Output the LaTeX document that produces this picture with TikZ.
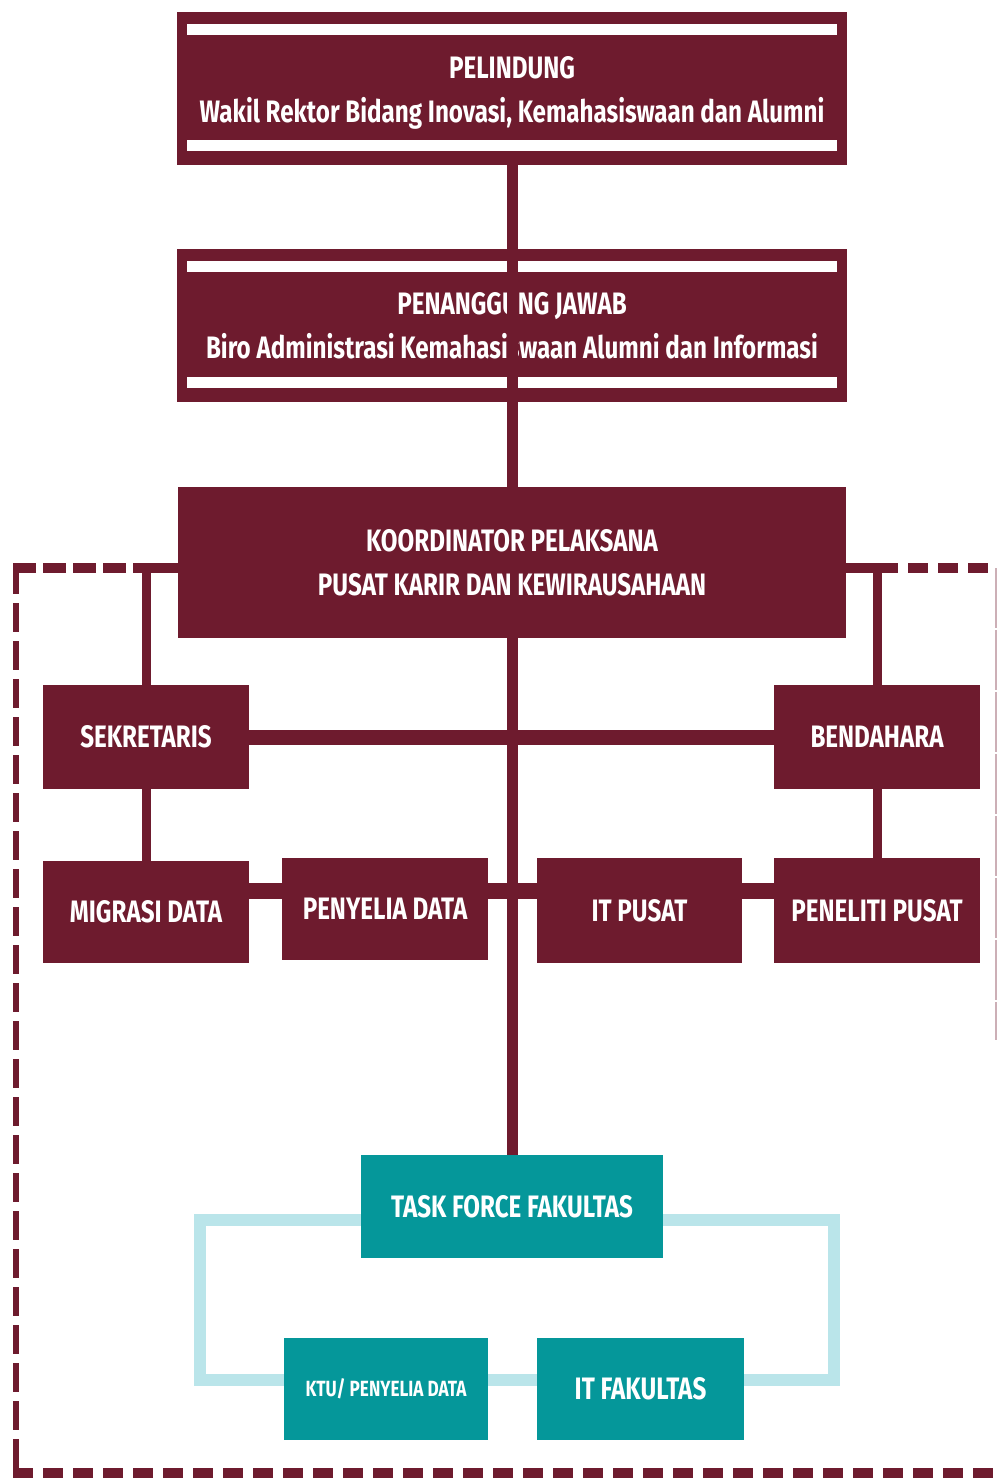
\documentclass[tikz,border=0pt]{standalone}
\usepackage{fontspec}
\setmainfont{Fira Sans}[FakeStretch=0.78]
\usetikzlibrary{backgrounds}
\definecolor{maroonk}{RGB}{110,27,46}
\definecolor{tfteal}{RGB}{5,151,154}
\definecolor{loopcyan}{RGB}{186,229,234}

\begin{document}
\begin{tikzpicture}[x=1pt, y=-1pt,
    unit/.style={fill=maroonk, text=white, align=center, inner sep=0pt,
        minimum width=206pt, minimum height=104pt, font=\fontsize{31}{38}\selectfont\bfseries},
    tfunit/.style={unit, fill=tfteal},
    link/.style={draw=maroonk, line width=9pt},
    spine/.style={draw=maroonk, line width=11pt},
    dashline/.style={draw=maroonk, dash pattern=on 23pt off 7pt},
    tflink/.style={draw=loopcyan, line width=12pt}]
    \useasboundingbox (0,0) rectangle (996,1479);

    % top of the chart
    \node[unit, minimum width=670pt, minimum height=153pt] (pel) at (512,88.5)
        {\rule{0pt}{30pt}PELINDUNG\\[6pt] Wakil Rektor Bidang Inovasi, Kemahasiswaan dan Alumni};
    \node[unit, minimum width=670pt, minimum height=153pt] (pj) at (512,325.5)
        {PENANGGUNG JAWAB\\[6pt] Biro Administrasi Kemahasiswaan Alumni dan Informasi};
    \foreach \b in {pel,pj} {
        \fill[white] ([shift={(10pt,-12pt)}]\b.north west) rectangle ([shift={(-10pt,-23pt)}]\b.north east);
        \fill[white] ([shift={(10pt,14pt)}]\b.south west) rectangle ([shift={(-10pt,25pt)}]\b.south east);
    }
    \node[unit, minimum width=668pt, minimum height=151pt] (kp) at (512,562.5)
        {KOORDINATOR PELAKSANA\\[6pt] PUSAT KARIR DAN KEWIRAUSAHAAN};
    \draw[spine] (pel) -- (pj.center) -- (kp);

    % staff
    \node[unit] (sek) at (146,737) {SEKRETARIS};
    \node[unit] (ben) at (877,737) {BENDAHARA};
    \node[unit, minimum height=102pt] (mig) at (146,912) {MIGRASI DATA};
    \node[unit, minimum height=102pt] (pen) at (385,909) {PENYELIA DATA};
    \node[unit, minimum width=205pt, minimum height=105pt] (itp) at (639.5,910.5) {IT PUSAT};
    \node[unit, minimum height=105pt] (pp) at (877,910.5) {PENELITI PUSAT};

    % task force
    \node[tfunit, minimum width=302pt, minimum height=103pt] (tf) at (512,1206.5) {TASK FORCE FAKULTAS};
    \node[tfunit, minimum width=204pt, minimum height=102pt, font=\fontsize{22}{26}\selectfont\bfseries] (ktu) at (386,1389) {KTU/ PENYELIA DATA};
    \node[tfunit, minimum width=207pt, minimum height=102pt] (itf) at (640.5,1389) {IT FAKULTAS};

    \coordinate (frL) at (135,568);
    \coordinate (frR) at (898,568);
    \coordinate (rowB) at (511,891);
    \coordinate (lpTL) at (200,1220);
    \coordinate (lpBR) at (834,1380);

    \begin{scope}[on background layer]
        \draw[spine] (kp) -- (tf);
        \draw[link, line width=15pt] (sek) -- (ben);
        \draw[link, line width=16pt] (mig.east |- rowB) -- (pp.west |- rowB);
        \draw[link] (sek) -- (mig);
        \draw[link] (ben) -- (pp);
        \draw[link, line width=10pt] (kp.west |- frL) -- (frL);
        \draw[link, line width=10pt] (kp.east |- frR) -- (frR);
        \draw[link] (sek) -- (sek.north |- frL);
        \draw[link] (ben) -- (ben.north |- frR);
        % dashed frame
        \draw[dashline, line width=10pt] (13,568) -- (frL);
        \draw[dashline, line width=10pt, dash pattern=on 20pt off 10pt, dash phase=20pt] (frR) -- (996,568);
        \draw[dashline, line width=6pt, dash pattern=on 29pt off 9pt] (16,565) -- (16,1468);
        \draw[dashline, line width=10pt, dash pattern=on 20pt off 10pt] (13,1473) -- (996,1473);
        \draw[dashline, draw=maroonk!35, line width=5pt, dash pattern=on 60pt off 2pt] (997,568) -- (997,1040);
        % loop round the task force
        \draw[tflink] (tf.west |- lpTL) -- (lpTL) |- (ktu.west |- lpBR);
        \draw[tflink] (ktu.east |- lpBR) -- (itf.west |- lpBR);
        \draw[tflink] (itf.east |- lpBR) -- (lpBR) |- (tf.east |- lpTL);
    \end{scope}
\end{tikzpicture}
\end{document}
